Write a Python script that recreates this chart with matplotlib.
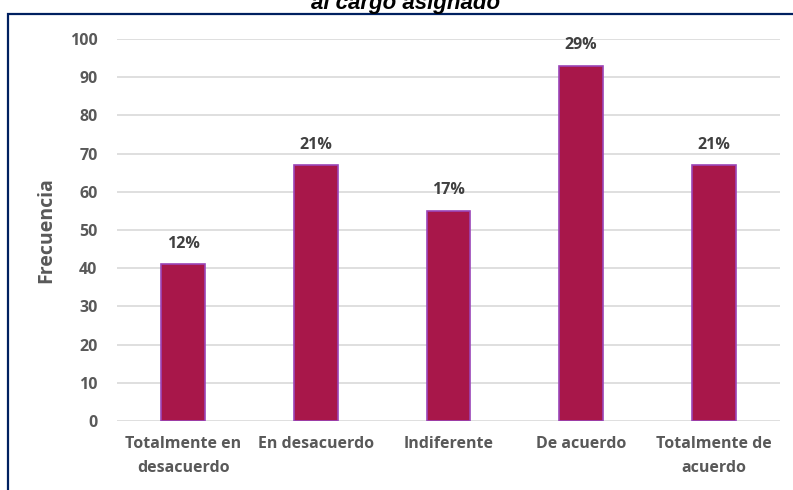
import matplotlib.pyplot as plt
from matplotlib.patches import Rectangle

categorias = ['Totalmente en\ndesacuerdo', 'En desacuerdo', 'Indiferente',
              'De acuerdo', 'Totalmente de\nacuerdo']
frecuencia = [41, 67, 55, 93, 67]
porcentajes = ['12%', '21%', '17%', '29%', '21%']

plt.rcParams['font.family'] = ['Open Sans', 'DejaVu Sans']

fig = plt.figure(figsize=(7.93, 4.90), dpi=100)
ax = fig.add_axes([0.1475, 0.1408, 0.8361, 0.7796])

x = range(len(categorias))
barras = ax.bar(x, frecuencia, width=0.33, color='#A8174A',
                edgecolor='#9B45B8', linewidth=1.2, zorder=3)

for b, p in zip(barras, porcentajes):
    ax.annotate(p, (b.get_x() + b.get_width() / 2, b.get_height()),
                xytext=(0, 9), textcoords='offset points', ha='center', va='bottom',
                fontsize=11.5, fontweight='bold', color='#404040')

ax.set_ylim(0, 100)
ax.set_xlim(-0.5, len(categorias) - 0.5)
ax.set_yticks(range(0, 101, 10))
ax.set_xticks(list(x))
ax.set_xticklabels(categorias, linespacing=1.65)
ax.yaxis.grid(True, color='#D9D9D9', linewidth=1.2, zorder=0)
for s in ax.spines.values():
    s.set_visible(False)
ax.tick_params(axis='both', length=0, labelsize=11.5, labelcolor='#595959')
ax.tick_params(axis='y', pad=14)
ax.tick_params(axis='x', pad=11)
for t in ax.get_xticklabels() + ax.get_yticklabels():
    t.set_fontweight('bold')

ax.set_ylabel('Frecuencia', fontsize=14, fontweight='bold', color='#595959', labelpad=10)

# marco del gráfico
fig.add_artist(Rectangle((8 / 793, -0.1), 1.2, 0.1 + (1 - 14 / 490), transform=fig.transFigure,
                         fill=False, edgecolor='#002060', linewidth=1.6))

fig.text(0.512, 0.993, 'al cargo asignado', ha='center', va='center',
         fontsize=16, fontweight='bold', fontstyle='italic', family='Liberation Sans')

fig.savefig('out.png', dpi=100)
